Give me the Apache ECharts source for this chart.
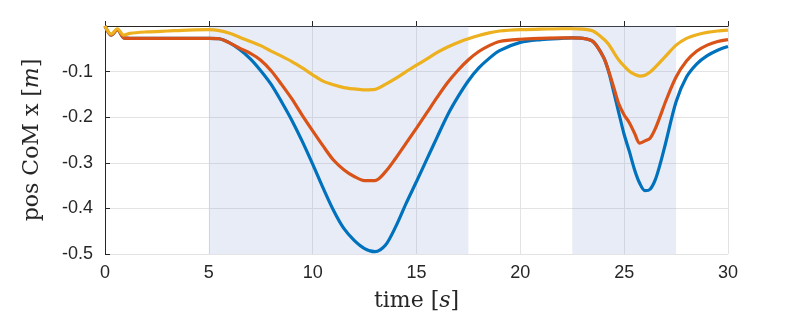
<!DOCTYPE html>
<html>
<head>
<meta charset="utf-8">
<script src="https://cdn.jsdelivr.net/npm/echarts@6/dist/echarts.min.js"></script>
<style>
  html, body { margin: 0; padding: 0; background: #fff; }
  #chart { width: 806px; height: 324px; }
</style>
</head>
<body>
<div id="chart"></div>
<script>
// time samples [s]
const time = [0, 0.3, 0.6, 0.9, 1.2, 2, 3, 4, 5, 5.5, 6, 6.5, 7, 7.5, 8, 8.5, 9, 9.5, 10, 10.5,
  11, 11.5, 12, 12.5, 13, 13.5, 14, 14.5, 15, 15.5, 16, 16.5, 17, 17.5, 18, 18.5, 19, 20, 21, 22,
  22.5, 23, 23.5, 24, 24.25, 24.5, 24.75, 25, 25.25, 25.5, 25.75, 26, 26.25, 26.5, 26.75, 27, 27.5,
  28, 28.5, 29, 29.5, 30]

const posBlue = [0, -0.02, -0.008, -0.026, -0.027, -0.027, -0.027, -0.027, -0.027, -0.028, -0.037,
  -0.052, -0.072, -0.098, -0.128, -0.166, -0.207, -0.253, -0.303, -0.355, -0.404, -0.444, -0.470,
  -0.488, -0.495, -0.481, -0.440, -0.389, -0.341, -0.292, -0.243, -0.195, -0.155, -0.120, -0.092,
  -0.071, -0.054, -0.036, -0.030, -0.027, -0.026, -0.027, -0.034, -0.068, -0.100, -0.145, -0.192,
  -0.238, -0.275, -0.315, -0.345, -0.361, -0.358, -0.337, -0.300, -0.256, -0.166, -0.112, -0.083,
  -0.065, -0.053, -0.045]

const posOrange = [0, -0.02, -0.008, -0.026, -0.027, -0.027, -0.027, -0.027, -0.027, -0.028, -0.037,
  -0.049, -0.060, -0.075, -0.098, -0.128, -0.160, -0.196, -0.230, -0.263, -0.294, -0.315, -0.330,
  -0.339, -0.339, -0.320, -0.290, -0.257, -0.224, -0.190, -0.156, -0.124, -0.097, -0.074, -0.056,
  -0.043, -0.034, -0.029, -0.027, -0.026, -0.026, -0.027, -0.034, -0.068, -0.098, -0.135, -0.172,
  -0.195, -0.212, -0.235, -0.257, -0.252, -0.246, -0.225, -0.196, -0.165, -0.112, -0.077, -0.055,
  -0.042, -0.034, -0.030]

const posYellow = [0, -0.018, -0.006, -0.02, -0.016, -0.013, -0.011, -0.009, -0.008, -0.010, -0.016,
  -0.025, -0.034, -0.043, -0.055, -0.066, -0.078, -0.092, -0.107, -0.121, -0.129, -0.135, -0.138,
  -0.140, -0.139, -0.128, -0.115, -0.100, -0.086, -0.072, -0.058, -0.046, -0.036, -0.028, -0.021,
  -0.015, -0.011, -0.008, -0.007, -0.006, -0.006, -0.007, -0.011, -0.028, -0.040, -0.058, -0.075,
  -0.088, -0.099, -0.106, -0.110, -0.108, -0.101, -0.090, -0.078, -0.066, -0.042, -0.027, -0.019,
  -0.014, -0.011, -0.009]

// shaded phases [start, end]
const phases = [[5, 17.5], [22.5, 27.5]]

const zip = (xs, ys) => xs.map((x, i) => [x, ys[i]])

const axisColor = '#262626'
const gridColor = '#e3e3e3'

let myChart = echarts.init(document.getElementById('chart'))

function lineSeries(name, data, color, extra) {
  return Object.assign({
    name: name,
    type: 'line',
    data: zip(time, data),
    showSymbol: false,
    smooth: 0.3,
    lineStyle: { color: color, width: 3.2 },
    itemStyle: { color: color }
  }, extra || {})
}

myChart.setOption({
  animation: false,
  grid: { left: 105, right: 78, top: 26, bottom: 70 },
  xAxis: {
    type: 'value',
    min: 0,
    max: 30,
    interval: 5,
    name: '{n|time }{n|[}{i|s}{n|]}',
    nameLocation: 'middle',
    nameGap: 36,
    nameTextStyle: {
      rich: {
        n: { fontFamily: 'DejaVu Serif', fontSize: 22, color: axisColor },
        i: { fontFamily: 'DejaVu Serif', fontStyle: 'italic', fontSize: 22, color: axisColor }
      }
    },
    axisLine: { lineStyle: { color: axisColor, width: 1 } },
    axisTick: { inside: true, length: 5, lineStyle: { color: axisColor } },
    axisLabel: { color: axisColor, fontFamily: 'Liberation Sans', fontSize: 18, margin: 10 },
    splitLine: { show: true, lineStyle: { color: gridColor, width: 1 } }
  },
  yAxis: {
    type: 'value',
    min: -0.5,
    max: 0,
    interval: 0.1,
    name: '{n|pos CoM x }{n|[}{i|m}{n|]}',
    nameLocation: 'middle',
    nameGap: 62,
    nameRotate: 90,
    nameTextStyle: {
      rich: {
        n: { fontFamily: 'DejaVu Serif', fontSize: 22, color: axisColor },
        i: { fontFamily: 'DejaVu Serif', fontStyle: 'italic', fontSize: 22, color: axisColor }
      }
    },
    axisLine: { show: true, lineStyle: { color: axisColor, width: 1 } },
    axisTick: { show: true, inside: true, length: 5, lineStyle: { color: axisColor } },
    axisLabel: {
      color: axisColor,
      fontFamily: 'Liberation Sans',
      fontSize: 18,
      margin: 12,
      showMaxLabel: false,
      formatter: v => v.toFixed(1)
    },
    splitLine: { show: true, lineStyle: { color: gridColor, width: 1 } }
  },
  series: [
    lineSeries('blue', posBlue, '#0072BD', {
      markArea: {
        silent: true,
        itemStyle: { color: 'rgba(140, 160, 210, 0.2)' },
        data: phases.map(p => [{ xAxis: p[0] }, { xAxis: p[1] }])
      }
    }),
    lineSeries('orange', posOrange, '#D95319'),
    lineSeries('yellow', posYellow, '#EDB120')
  ]
})
</script>
</body>
</html>
